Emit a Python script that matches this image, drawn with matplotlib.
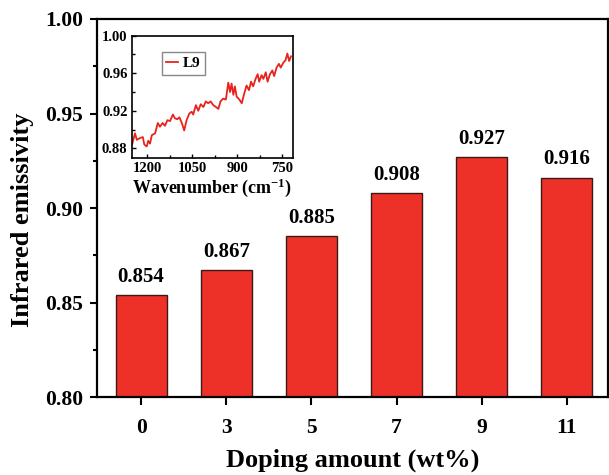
import matplotlib
matplotlib.use("Agg")
import matplotlib.pyplot as plt
from matplotlib.ticker import MultipleLocator

plt.rcParams["font.family"] = ["Liberation Serif", "DejaVu Serif"]
plt.rcParams["font.weight"] = "bold"
plt.rcParams["mathtext.fontset"] = "custom"
plt.rcParams["mathtext.rm"] = "Liberation Serif:bold"
plt.rcParams["mathtext.it"] = "Liberation Serif:bold"
plt.rcParams["mathtext.bf"] = "Liberation Serif:bold"

# Emissivity versus doping amount
doping = ["0", "3", "5", "7", "9", "11"]
emissivity = [0.854, 0.867, 0.885, 0.908, 0.927, 0.916]

# L9 spectral emissivity
wavenumber = [1250, 1241, 1235, 1224, 1215, 1210, 1202, 1197, 1191, 1185,
              1174, 1165, 1158, 1149, 1141, 1133, 1124, 1115, 1108, 1100,
              1093, 1085, 1077, 1069, 1060, 1052, 1047, 1038, 1030, 1022,
              1013, 1005, 997, 989, 980, 971, 963, 956, 947, 938,
              930, 924, 919, 913, 908, 902, 893, 885, 878, 869,
              861, 854, 847, 839, 832, 827, 819, 813, 805, 799,
              791, 783, 777, 769, 761, 755, 747, 739, 733, 727, 721]
spec_emis = [0.885, 0.896, 0.889, 0.891, 0.892, 0.884, 0.882, 0.888, 0.885, 0.894,
             0.896, 0.907, 0.903, 0.907, 0.904, 0.910, 0.909, 0.916, 0.912, 0.911,
             0.913, 0.907, 0.899, 0.910, 0.917, 0.919, 0.916, 0.926, 0.920, 0.927,
             0.924, 0.930, 0.928, 0.930, 0.926, 0.924, 0.922, 0.930, 0.933, 0.932,
             0.950, 0.940, 0.949, 0.937, 0.946, 0.935, 0.932, 0.928, 0.937, 0.947,
             0.942, 0.951, 0.946, 0.954, 0.959, 0.951, 0.958, 0.954, 0.961, 0.951,
             0.959, 0.963, 0.957, 0.966, 0.970, 0.966, 0.971, 0.974, 0.981, 0.973, 0.978]

bar_color = "#EE3128"

fig = plt.figure(figsize=(6.09, 4.75), dpi=100)
ax = fig.add_axes([0.159, 0.1642, 0.839, 0.7958])

pos = list(range(len(doping)))
ax.bar(pos, emissivity, width=0.6, color=bar_color,
       edgecolor="#3a1a18", linewidth=1.0, zorder=2)
for p, v in zip(pos, emissivity):
    ax.annotate(f"{v:.3f}", (p, v), xytext=(0, 6), textcoords="offset points",
                ha="center", va="bottom", fontsize=15, fontweight="bold")

ax.set_xlim(-0.52, 5.48)
ax.set_ylim(0.80, 1.00)
ax.set_xticks(pos)
ax.set_xticklabels(doping)
ax.yaxis.set_major_locator(MultipleLocator(0.05))
ax.yaxis.set_minor_locator(MultipleLocator(0.025))
ax.yaxis.set_major_formatter(plt.FormatStrFormatter("%.2f"))
ax.tick_params(axis="both", which="major", direction="out", width=1.5,
               labelsize=15.5)
ax.tick_params(axis="y", which="major", length=5, pad=5)
ax.tick_params(axis="y", which="minor", direction="out", length=3, width=1.5)
ax.tick_params(axis="x", which="major", length=6, pad=9)
for s in ax.spines.values():
    s.set_linewidth(1.6)
ax.set_xlabel("Doping amount (wt%)", fontsize=19, fontweight="bold", labelpad=8)
ax.set_ylabel("Infrared emissivity", fontsize=19, fontweight="bold")
ax.yaxis.set_label_coords(-0.123, 0.468)

# Inset: spectral curve
ins = fig.add_axes([0.2163, 0.668, 0.2644, 0.2568])
ins.plot(wavenumber, spec_emis, color="#E8231C", linewidth=1.3, label="L9")
ins.set_xlim(1252, 715)
ins.set_ylim(0.870, 1.00)
ins.set_xticks([1200, 1050, 900, 750])
ins.xaxis.set_minor_locator(MultipleLocator(75))
ins.set_yticks([0.88, 0.92, 0.96, 1.00])
ins.yaxis.set_minor_locator(MultipleLocator(0.02))
ins.yaxis.set_major_formatter(plt.FormatStrFormatter("%.2f"))
ins.tick_params(axis="both", which="major", direction="in", length=3, width=1,
                labelsize=10.5, pad=3)
ins.tick_params(axis="both", which="minor", direction="in", length=2, width=1)
for s in ins.spines.values():
    s.set_linewidth(1.2)
ins.set_xlabel("Wavenumber (cm$^{-1}$)", fontsize=13, fontweight="bold", labelpad=1)
leg = ins.legend(loc="upper left", bbox_to_anchor=(0.186, 0.866), fontsize=11,
                 handlelength=0.8, handletextpad=0.3, borderpad=0.3,
                 borderaxespad=0, fancybox=False, edgecolor="#888888",
                 framealpha=1)
for t in leg.get_texts():
    t.set_fontweight("bold")

fig.savefig("out.png", dpi=100)
